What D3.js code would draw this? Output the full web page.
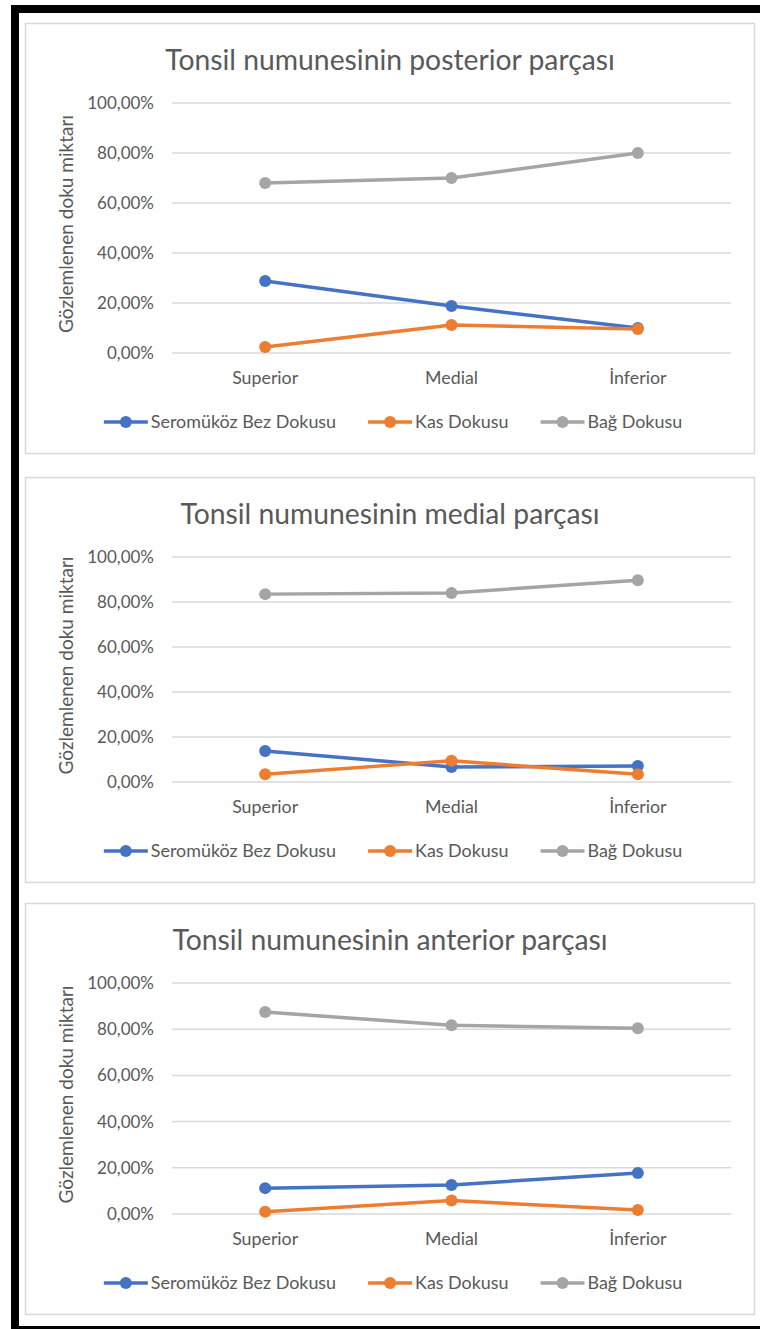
<!DOCTYPE html>
<html>
<head>
<meta charset="utf-8">
<style>
  body { margin: 0; background: #fff; }
  text { font-family: Lato, "Open Sans", sans-serif; fill: #595959; }
</style>
</head>
<body>
<svg id="container" width="760" height="1329"></svg>
<script src="https://d3js.org/d3.v7.min.js"></script>
<script>
// categories and legend
const categories = ["Superior", "Medial", "İnferior"]
const seriesNames = ["Seromüköz Bez Dokusu", "Kas Dokusu", "Bağ Dokusu"]
const seriesColors = ["#4472C4", "#ED7D31", "#A5A5A5"]
const yTicks = [0, 20, 40, 60, 80, 100]
const yTitle = "Gözlemlenen doku miktarı"

const titles = [
  "Tonsil numunesinin posterior parçası",
  "Tonsil numunesinin medial parçası",
  "Tonsil numunesinin anterior parçası"
]

// values in % : [seromüköz, kas, bağ] per category
const posterior = [[28.8, 18.8, 10.0], [2.4, 11.2, 9.6], [68.0, 70.0, 80.0]]
const medial    = [[13.8, 6.7, 7.1], [3.4, 9.4, 3.4], [83.5, 84.0, 89.7]]
const anterior  = [[11.2, 12.6, 17.7], [1.0, 5.8, 1.7], [87.4, 81.7, 80.4]]

const svg = d3.select("#container")

// black frame of the screenshot (left, top, bottom only)
svg.append("rect").attr("x", 11).attr("y", 5).attr("width", 8).attr("height", 1324).attr("fill", "#000")
svg.append("rect").attr("x", 11).attr("y", 5).attr("width", 749).attr("height", 8).attr("fill", "#000")
svg.append("rect").attr("x", 11).attr("y", 1326).attr("width", 749).attr("height", 3).attr("fill", "#000")

let panels = [
  {top: 23, h: 430, title: titles[0], data: posterior},
  {top: 477, h: 405, title: titles[1], data: medial},
  {top: 903, h: 411, title: titles[2], data: anterior}
]

panels.forEach(drawPanel)

function drawPanel(p) {
  let left = 25, right = 754
  let g = svg.append("g")

  g.append("rect")
    .attr("x", left + 0.5).attr("y", p.top + 0.5)
    .attr("width", right - left).attr("height", p.h)
    .attr("fill", "#fff").attr("stroke", "#d9d9d9").attr("stroke-width", 1.5)

  let plotTop = p.top + 80
  let plotBottom = p.top + p.h - 100

  let x = d3.scalePoint()
    .domain(categories)
    .range([172, 731])
    .padding(0.5)

  let y = d3.scaleLinear()
    .domain([0, 100])
    .range([plotBottom, plotTop])

  g.append("text")
    .attr("x", 390).attr("y", p.top + 47)
    .attr("text-anchor", "middle")
    .style("font-size", "28.3px")
    .text(p.title)

  // gridlines + tick labels
  g.selectAll(".grid")
    .data(yTicks)
    .enter().append("line")
    .attr("x1", 172).attr("x2", 731)
    .attr("y1", d => y(d)).attr("y2", d => y(d))
    .attr("stroke", "#d9d9d9").attr("stroke-width", 1.5)

  g.selectAll(".ytick")
    .data(yTicks)
    .enter().append("text")
    .attr("x", 154).attr("y", d => y(d))
    .attr("dy", "0.35em")
    .attr("text-anchor", "end")
    .style("font-size", "17px")
    .text(d => d3.format(".2f")(d).replace(".", ",") + "%")

  g.append("text")
    .attr("transform", `translate(73,${(plotTop + plotBottom) / 2 - 4}) rotate(-90)`)
    .attr("text-anchor", "middle")
    .style("font-size", "19px")
    .text(yTitle)

  g.selectAll(".xtick")
    .data(categories)
    .enter().append("text")
    .attr("x", d => x(d)).attr("y", plotBottom + 25)
    .attr("dy", "0.35em")
    .attr("text-anchor", "middle")
    .style("font-size", "17.8px")
    .text(d => d)

  let line = d3.line()
    .x((d, i) => x(categories[i]))
    .y(d => y(d))

  p.data.forEach((vals, s) => {
    g.append("path")
      .attr("d", line(vals))
      .attr("fill", "none")
      .attr("stroke", seriesColors[s])
      .attr("stroke-width", 3.5)
      .attr("stroke-linejoin", "round")
  })
  p.data.forEach((vals, s) => {
    g.selectAll(null)
      .data(vals)
      .enter().append("circle")
      .attr("cx", (d, i) => x(categories[i]))
      .attr("cy", d => y(d))
      .attr("r", 6)
      .attr("fill", seriesColors[s])
  })

  // legend
  let ly = plotBottom + 69
  let lg = g.append("g")
  let cursor = 0
  seriesNames.forEach((name, s) => {
    let item = lg.append("g").attr("transform", `translate(${cursor},0)`)
    item.append("line")
      .attr("x1", 0).attr("x2", 44).attr("y1", ly).attr("y2", ly)
      .attr("stroke", seriesColors[s]).attr("stroke-width", 3.5)
    item.append("circle")
      .attr("cx", 22).attr("cy", ly).attr("r", 6)
      .attr("fill", seriesColors[s])
    let t = item.append("text")
      .attr("x", 47).attr("y", ly).attr("dy", "0.35em")
      .style("font-size", "17.9px")
      .text(name)
    cursor += 47 + t.node().getComputedTextLength() + 32
  })
  let total = cursor - 32
  lg.attr("transform", `translate(${393 - total / 2},0)`)
}
</script>
</body>
</html>
